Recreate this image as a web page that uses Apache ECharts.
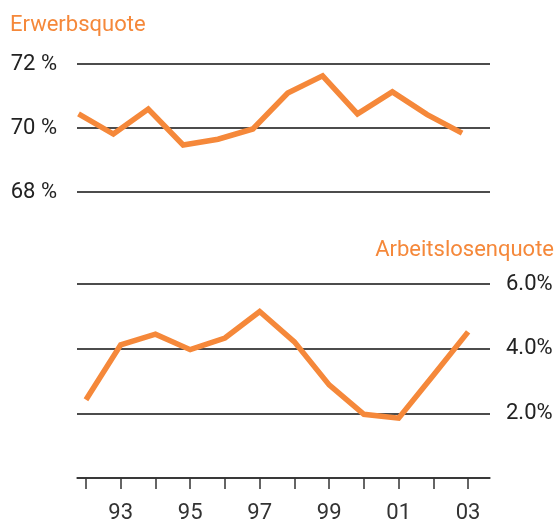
<!DOCTYPE html>
<html>
<head>
<meta charset="utf-8">
<script src="https://cdn.jsdelivr.net/npm/echarts@6/dist/echarts.min.js"></script>
<style>
  html, body { margin: 0; padding: 0; background: #fff; }
  #chart { width: 559px; height: 521px; }
</style>
</head>
<body>
<div id="chart"></div>
<script>
// Jahre und Werte
const years = [1992, 1993, 1994, 1995, 1996, 1997, 1998, 1999, 2000, 2001, 2002, 2003];
const erwerbsquote = [70.44, 69.81, 70.59, 69.47, 69.65, 69.97, 71.09, 71.63, 70.44, 71.13, 70.42, 69.84];
const arbeitslosenquote = [2.42, 4.12, 4.45, 3.97, 4.33, 5.15, 4.21, 2.88, 1.97, 1.85, 3.18, 4.52];
const yearLabels = [1993, 1995, 1997, 1999, 2001, 2003];

const orange = '#f5883a';
const font = 'Roboto';

let chart = echarts.getInstanceByDom(document.getElementById('chart'))
if (!chart) chart = echarts.init(document.getElementById('chart'))

const pairs = (vals) => years.map((y, i) => [y, vals[i]]);

const option = {
    animation: false,
    title: [
        {
            text: 'Erwerbsquote',
            left: 5, top: 9,
            textStyle: { color: orange, fontFamily: font, fontWeight: 'normal', fontSize: 22 }
        },
        {
            text: 'Arbeitslosenquote',
            right: 0, top: 234,
            textStyle: { color: orange, fontFamily: font, fontWeight: 'normal', fontSize: 22 }
        }
    ],
    grid: [
        { left: 77, right: 69, top: 64, height: 128, outerBoundsMode: 'none' },
        { left: 77, right: 69, top: 284, height: 194, outerBoundsMode: 'none' }
    ],
    xAxis: [
        {
            gridIndex: 0, type: 'value',
            min: 1991.957, max: 2003.8,
            axisLine: { show: false }, axisTick: { show: false },
            axisLabel: { show: false }, splitLine: { show: false }
        },
        {
            gridIndex: 1, type: 'value',
            min: 1991.742, max: 2003.63,
            axisLine: { show: true, lineStyle: { color: '#333', width: 1.5 } },
            axisTick: { show: true, customValues: years, length: 11, lineStyle: { color: '#333', width: 1.5 } },
            axisLabel: {
                customValues: yearLabels,
                margin: 24,
                color: '#333', fontFamily: font, fontSize: 22,
                formatter: (v) => String(v).slice(2)
            },
            splitLine: { show: false }
        }
    ],
    yAxis: [
        {
            gridIndex: 0, type: 'value',
            min: 68, max: 72, interval: 2,
            position: 'left',
            axisLine: { show: false }, axisTick: { show: false },
            axisLabel: {
                margin: 20, color: '#222', fontFamily: font, fontSize: 22,
                formatter: (v) => v + ' %'
            },
            splitLine: { lineStyle: { color: '#111', width: 1.5 } }
        },
        {
            gridIndex: 1, type: 'value',
            min: 0, max: 6, interval: 2,
            position: 'right',
            axisLine: { show: false }, axisTick: { show: false },
            axisLabel: {
                margin: 16, color: '#222', fontFamily: font, fontSize: 22,
                formatter: (v) => v === 0 ? '' : v.toFixed(1) + '%'
            },
            splitLine: { lineStyle: { color: '#111', width: 1.5 } }
        }
    ],
    series: [
        {
            name: 'Erwerbsquote', type: 'line',
            xAxisIndex: 0, yAxisIndex: 0,
            data: pairs(erwerbsquote),
            symbol: 'none',
            lineStyle: { color: orange, width: 5.5, join: 'miter' }
        },
        {
            name: 'Arbeitslosenquote', type: 'line',
            xAxisIndex: 1, yAxisIndex: 1,
            data: pairs(arbeitslosenquote),
            symbol: 'none',
            lineStyle: { color: orange, width: 5.5, join: 'miter' }
        }
    ]
};
chart.clear();
option && chart.setOption(option)
</script>
</body>
</html>
